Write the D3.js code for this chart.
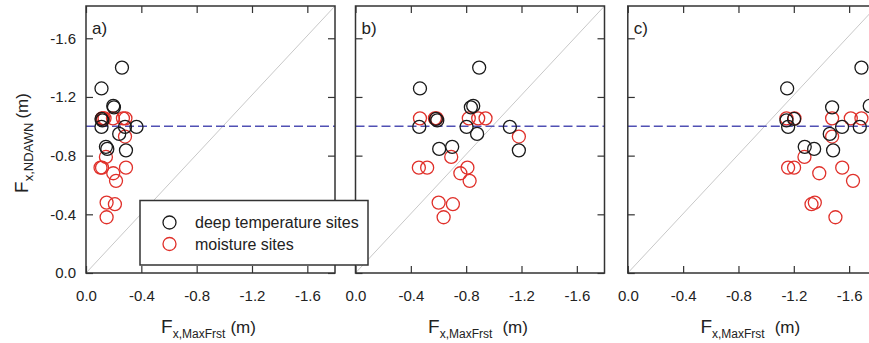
<!DOCTYPE html>
<html>
<head>
<meta charset="utf-8">
<script src="https://cdn.jsdelivr.net/npm/d3@7/dist/d3.min.js"></script>
<style>
    body { margin: 0; background: #fff; }
    svg { display: block; }
    text { font-family: "Liberation Sans", Arial, sans-serif; }
</style>
</head>
<body>
<svg id="chart" width="869" height="343"></svg>
<script>
// tick values and labels (shared by all three panels)
let xTicks = [0, -0.4, -0.8, -1.2, -1.6];
let yTicks = [0, -0.4, -0.8, -1.2, -1.6];
let panelLabels = ["a)", "b)", "c)"];

// F_x,NDAWN for each site (same in all panels)
let deepY = [-1.40, -1.258, -1.139, -1.129, -1.05, -1.04, -0.996, -0.996, -0.996, -0.948, -0.86, -0.846, -0.836];
let moistY = [-1.054, -1.054, -1.054, -1.054, -1.054, -1.054, -0.93, -0.791, -0.718, -0.718, -0.718, -0.68, -0.628, -0.48, -0.469, -0.38];

// F_x,MaxFrst for each panel
let deepXa = [-0.26, -0.112, -0.197, -0.202, -0.112, -0.118, -0.112, -0.282, -0.365, -0.240, -0.144, -0.154, -0.289];
let deepXb = [-0.894, -0.466, -0.851, -0.834, -0.581, -0.591, -0.461, -0.803, -1.116, -0.879, -0.699, -0.605, -1.181];
let deepXc = [-1.689, -1.152, -1.749, -1.477, -1.202, -1.147, -1.159, -1.549, -1.677, -1.460, -1.279, -1.347, -1.484];

let moistXa = [-0.116, -0.134, -0.195, -0.267, -0.285, -0.123, -0.282, -0.144, -0.105, -0.116, -0.289, -0.197, -0.217, -0.149, -0.209, -0.149];
let moistXb = [-0.466, -0.574, -0.586, -0.819, -0.887, -0.940, -1.181, -0.692, -0.458, -0.518, -0.809, -0.758, -0.825, -0.601, -0.704, -0.637];
let moistXc = [-1.147, -1.205, -1.477, -1.612, -1.689, -1.82, -1.477, -1.277, -1.159, -1.202, -1.550, -1.384, -1.628, -1.352, -1.328, -1.501];

let refLine = -1.0;

let svg = d3.select("#chart");
let top0 = 6;
let pw = 249;
let ph = 267;
let panelLefts = [86, 355.5, 627.8];

let x = d3.scaleLinear().domain([0, -1.8]).range([0, pw]);
let y = d3.scaleLinear().domain([0, -1.82]).range([ph, 0]);

let fmt = function (d) { return d.toFixed(1); };

function styleAxis(g, showText) {
    g.select(".domain").remove();
    g.selectAll(".tick line").attr("stroke", "#333").attr("stroke-width", 1.2);
    g.selectAll(".tick text")
        .attr("fill", "#222")
        .style("font-size", "15px")
        .style("font-family", "'Liberation Sans', Arial, sans-serif");
    if (!showText) g.selectAll(".tick text").remove();
}

function drawPanel(i, deepX, moistX) {
    let g = svg.append("g").attr("transform", "translate(" + panelLefts[i] + "," + top0 + ")");

    // 1:1 line
    g.append("line")
        .attr("x1", x(0)).attr("y1", y(0))
        .attr("x2", x(-1.8)).attr("y2", y(-1.82))
        .attr("stroke", "#c8c8c8").attr("stroke-width", 1);

    g.append("line")
        .attr("x1", 0).attr("x2", pw)
        .attr("y1", y(refLine)).attr("y2", y(refLine))
        .attr("stroke", "#5050b4").attr("stroke-width", 1.5)
        .attr("stroke-dasharray", "9,4");

    g.selectAll(".moist")
        .data(moistX)
        .enter().append("circle")
        .attr("class", "moist")
        .attr("cx", function (d) { return x(d); })
        .attr("cy", function (d, j) { return y(moistY[j]); })
        .attr("r", 6.5)
        .attr("fill", "none")
        .attr("stroke", "#e0302a")
        .attr("stroke-width", 1.3);

    g.selectAll(".deep")
        .data(deepX)
        .enter().append("circle")
        .attr("class", "deep")
        .attr("cx", function (d) { return x(d); })
        .attr("cy", function (d, j) { return y(deepY[j]); })
        .attr("r", 6.5)
        .attr("fill", "none")
        .attr("stroke", "#1a1a1a")
        .attr("stroke-width", 1.3);

    // inward ticks on every side
    let bottom = g.append("g").attr("transform", "translate(0," + ph + ")")
        .call(d3.axisBottom(x).tickValues(xTicks).tickSize(-7).tickPadding(17).tickFormat(fmt));
    styleAxis(bottom, true);
    bottom.selectAll(".tick text").attr("dy", "0.71em");

    let topAxis = g.append("g")
        .call(d3.axisTop(x).tickValues(xTicks).tickSize(-7).tickFormat(""));
    styleAxis(topAxis, false);

    let left = g.append("g")
        .call(d3.axisLeft(y).tickValues(yTicks).tickSize(-7).tickPadding(10).tickFormat(fmt));
    styleAxis(left, i == 0);

    let right = g.append("g").attr("transform", "translate(" + pw + ",0)")
        .call(d3.axisRight(y).tickValues(yTicks).tickSize(-7).tickFormat(""));
    styleAxis(right, false);

    g.append("rect")
        .attr("x", 0).attr("y", 0).attr("width", pw).attr("height", ph)
        .attr("fill", "none").attr("stroke", "#333").attr("stroke-width", 1.5);

    g.append("text")
        .attr("x", 6).attr("y", 28)
        .attr("fill", "#222")
        .style("font-size", "17px")
        .text(panelLabels[i]);

    // x axis title
    let t = svg.append("text")
        .attr("x", panelLefts[i] + pw / 2 - 2)
        .attr("y", 333)
        .attr("text-anchor", "middle")
        .attr("fill", "#222");
    t.append("tspan").style("font-size", "19px").text("F");
    t.append("tspan").attr("dy", 5).style("font-size", "12px").text("x,MaxFrst");
    t.append("tspan").attr("dy", -5).attr("dx", i == 0 ? 5 : 10).style("font-size", "17px").text("(m)");
}

drawPanel(0, deepXa, moistXa);
drawPanel(1, deepXb, moistXb);
drawPanel(2, deepXc, moistXc);

// y axis title
let yt = svg.append("text")
    .attr("transform", "translate(28,143) rotate(-90)")
    .attr("text-anchor", "middle")
    .attr("fill", "#222");
yt.append("tspan").style("font-size", "19px").text("F");
yt.append("tspan").attr("dy", 5).style("font-size", "13px").text("x,NDAWN");
yt.append("tspan").attr("dy", -5).attr("dx", 4).style("font-size", "17px").text("(m)");

// legend
let legend = svg.append("g").attr("transform", "translate(140,200.5)");
legend.append("rect")
    .attr("width", 228).attr("height", 64.5)
    .attr("fill", "#fff").attr("stroke", "#333").attr("stroke-width", 1.5);
let legendItems = [
    { name: "deep temperature sites", color: "#1a1a1a" },
    { name: "moisture sites", color: "#e0302a" }
];
let li = legend.selectAll(".item")
    .data(legendItems)
    .enter().append("g")
    .attr("transform", function (d, j) { return "translate(0," + (22 + j * 21.5) + ")"; });
li.append("circle")
    .attr("cx", 29.5).attr("cy", 0).attr("r", 6.5)
    .attr("fill", "none").attr("stroke", function (d) { return d.color; }).attr("stroke-width", 1.3);
li.append("text")
    .attr("x", 55).attr("y", 5.5)
    .attr("fill", "#222")
    .style("font-size", "16px")
    .text(function (d) { return d.name; });
</script>
</body>
</html>
